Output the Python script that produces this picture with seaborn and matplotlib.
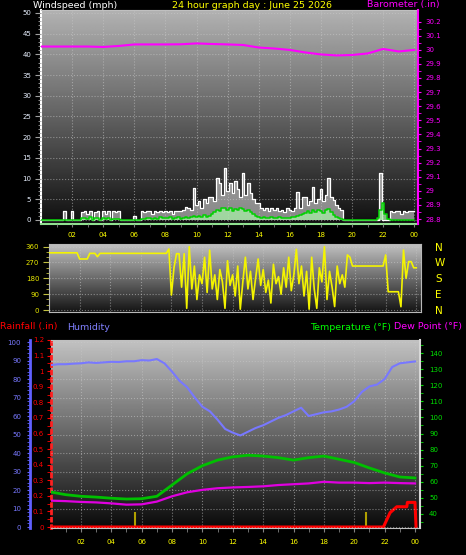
import numpy as np
import matplotlib
matplotlib.use('Agg')
import matplotlib.pyplot as plt
import seaborn as sns

# Figure size in pixels
W, H = 466, 555

# ---- Wind speed (mph), 10 minute samples from 00:00 to 24:00 ----
wind_gust = [
    0, 0, 0, 0, 0, 0,
    0, 0, 0, 2.2, 0, 0,
    2.2, 0, 0, 0, 2.0, 2.2,
    1.5, 2.2, 0, 2.0, 2.2, 0,
    2.2, 1.5, 2.2, 0, 2.2, 2.0,
    2.2, 0, 0, 0, 0, 0,
    1.0, 0, 0, 2.2, 2.0, 2.2,
    2.2, 1.5, 2.2, 2.0, 2.2, 2.0,
    2.2, 2.0, 2.2, 1.5, 2.2, 2.2,
    2.2, 2.5, 3.2, 3.0, 2.5, 7.7,
    3.5, 4.5, 3.0, 5.0, 4.0, 5.5,
    5.6, 4.5, 10.1, 8.9, 6.0, 12.5,
    7.0, 8.9, 6.5, 9.3, 7.5, 5.5,
    11.3, 6.0, 8.9, 6.5, 5.0, 4.0,
    4.1, 3.0, 2.5, 3.0, 2.2, 3.0,
    2.5, 3.0, 2.2, 2.5, 2.0, 3.0,
    2.5, 2.2, 3.0, 6.8, 3.0, 5.6,
    5.6, 3.5, 4.5, 8.0, 4.0, 5.0,
    7.5, 4.5, 6.0, 10.1, 5.5, 4.8,
    3.5, 3.0, 2.4, 0, 0, 0,
    0, 0, 0, 0, 0, 0,
    0, 0, 0, 0, 0, 11.3,
    0, 0, 0, 2.2, 2.0, 2.2,
    2.2, 1.5, 2.2, 2.0, 2.2, 2.2,
    2.2,
]
wind_avg = [
    0, 0, 0, 0, 0, 0,
    0, 0, 0, 0, 0, 0,
    0, 0, 0, 0, 0.4, 0.5,
    0.3, 0.6, 0, 0.4, 0.5, 0,
    0.4, 0.3, 0.5, 0, 0.3, 0.2,
    0.3, 0, 0, 0, 0, 0,
    0, 0, 0, 0.2, 0.3, 0.4,
    0.5, 0.3, 0.4, 0.3, 0.6, 0.5,
    0.4, 0.5, 0.6, 0.3, 0.5, 0.6,
    0.3, 0.5, 0.8, 0.5, 0.6, 1.0,
    0.8, 1.0, 0.6, 1.2, 0.8, 1.0,
    1.5, 2.0, 2.5, 2.2, 2.8, 3.0,
    2.5, 2.8, 2.2, 2.6, 2.4, 2.8,
    2.6, 2.2, 2.5, 2.0, 1.5, 1.0,
    0.8, 0.5, 0.6, 0.5, 0.4, 0.6,
    0.5, 0.4, 0.6, 0.5, 0.4, 0.5,
    0.4, 0.6, 0.8, 1.0, 1.2, 1.5,
    1.8, 2.2, 1.6, 2.4, 2.0, 2.5,
    2.2, 1.8, 2.4, 2.6, 2.0, 1.2,
    0.8, 0.5, 0.3, 0, 0, 0,
    0, 0, 0, 0, 0, 0,
    0, 0, 0, 0, 0.5, 2.5,
    4.1, 1.5, 0.3, 0, 0, 0,
    0, 0, 0, 0, 0, 0,
    0,
]
# ---- Wind direction (degrees), same 10 minute samples ----
wind_dir = [
    325, 325, 325, 325, 325, 325,
    325, 325, 325, 325, 325, 325,
    290, 290, 290, 290, 322, 322,
    322, 303, 322, 322, 322, 322,
    322, 322, 322, 322, 322, 322,
    322, 322, 322, 322, 322, 322,
    322, 322, 322, 322, 322, 322,
    322, 322, 322, 322, 322, 347,
    85, 240, 320, 320, 130, 320,
    10, 360, 120, 250, 60, 200,
    150, 300, 100, 340, 120, 200,
    60, 230, 160, 10, 280, 140,
    200, 80, 250, 5, 160, 300,
    120, 220, 60, 180, 290, 140,
    230, 100, 170, 40, 260, 150,
    190, 90, 240, 130, 300, 110,
    200, 345, 150, 250, 80, 220,
    5, 300, 120, 10, 240, 160,
    360, 60, 220, 130, 20, 250,
    150, 200, 130, 313, 300, 250,
    250, 250, 250, 250, 250, 250,
    250, 250, 250, 250, 250, 250,
    313, 104, 104, 104, 104, 104,
    19, 341, 180, 275, 275, 240,
    240,
]
ten_min_hours = np.arange(len(wind_gust)) / 6

# ---- Barometer (in), hourly ----
baro_hours = list(range(25))
baro = [30.023, 30.023, 30.023, 30.023, 30.02, 30.027, 30.038, 30.038, 30.038,
        30.039, 30.045, 30.041, 30.038, 30.034, 30.016, 30.009, 29.999, 29.981,
        29.967, 29.96, 29.963, 29.974, 30.006, 29.988, 29.999]

# ---- Humidity (%), half hourly ----
hum_hours = [i / 2 for i in range(49)]
humidity = [87.5, 88, 88, 88.3, 88.5, 89, 88.7, 89, 89.3, 89.2, 89.6, 89.6,
            90.2, 90, 90.8, 88.5, 84, 79, 75.5, 70, 65, 62.5, 58, 53,
            51, 49.5, 51.5, 53.5, 55, 57, 59, 60.5, 62.5, 64.5, 60, 61,
            62, 62.5, 63.5, 65, 68, 73, 76, 77, 80, 86.5, 88.5, 89, 89.5]

# ---- Temperature and dew point (F), hourly ----
temp_hours = list(range(25))
temperature = [53.7, 52, 51, 50.5, 49.8, 49.3, 49.5, 51, 58, 65, 70, 73.5, 75.5,
               76.5, 76, 75, 73.5, 75, 76, 74, 72, 68.6, 65.5, 63, 62.4]
dew_point = [48.3, 48, 47.5, 47.2, 46.6, 45.8, 46, 47.7, 51, 53.5, 55, 56, 56.5,
             56.8, 57.2, 58, 58.5, 59, 60, 59.5, 59.5, 59.2, 59.5, 59.2, 59]

# ---- Rainfall (in) ----
rain_hours = [0, 21.92, 22.36, 22.8, 23.46, 23.5, 24.0, 24.07]
rainfall = [0, 0, 0.092, 0.13, 0.13, 0.158, 0.158, 0]
rate_hours = [5.56, 20.78]
rain_rate = [0.095, 0.095]

hour_ticks = list(range(2, 25, 2))
hour_labels = ['02', '04', '06', '08', '10', '12', '14', '16', '18', '20', '22', '00']

YELLOW = '#ffff00'
MAGENTA = '#ff00ff'
GRID = dict(color='#c8c8c8', linestyle=':', linewidth=0.8, alpha=0.55)
TICK = 5

plt.rcParams['font.family'] = 'DejaVu Sans'
fig = plt.figure(figsize=(W / 100, H / 100), dpi=100)
fig.patch.set_facecolor('black')


def px_axes(left, top, right, bottom):
    return fig.add_axes([left / W, 1 - bottom / H, (right - left) / W, (bottom - top) / H])


def shade(ax, top, bottom):
    # grey gradient background, light at the top and dark at the bottom
    g = np.linspace(top, bottom, 256).reshape(-1, 1)
    ax.imshow(g, cmap='gray', vmin=0, vmax=1, aspect='auto', extent=(0, 1, 0, 1),
              transform=ax.transAxes, zorder=0, interpolation='bilinear')


def hide_spines(ax, keep):
    for name, sp in ax.spines.items():
        sp.set_visible(name in keep)


# ================= Wind speed / barometer =================
ax_w = px_axes(41, 10, 418, 224)
shade(ax_w, 0.70, 0.06)
ax_w.fill_between(ten_min_hours, wind_gust, step='mid', color='white', alpha=0.5, lw=0, zorder=2)
sns.lineplot(x=ten_min_hours, y=wind_gust, ax=ax_w, color='white', lw=0.9,
             drawstyle='steps-mid', estimator=None, errorbar=None, zorder=3)
ax_w.fill_between(ten_min_hours, wind_avg, step='mid', color='#a8f0a8', alpha=0.75, lw=0, zorder=4)
sns.lineplot(x=ten_min_hours, y=wind_avg, ax=ax_w, color='#00d000', lw=1.1,
             drawstyle='steps-mid', estimator=None, errorbar=None, zorder=5)
ax_w.set_xlim(0, 24.24)
ax_w.set_ylim(-0.97, 50.7)
ax_w.set_yticks(range(0, 51, 5))
ax_w.set_yticks(range(0, 51), minor=True)
ax_w.set_xticks(hour_ticks)
ax_w.set_xticklabels(hour_labels)
ax_w.set_xticks(range(1, 25), minor=True)
ax_w.grid(True, **GRID)
ax_w.set_axisbelow(False)
ax_w.tick_params(axis='y', which='major', colors='#a0a0a0', labelcolor='#e8f0ff',
                 labelsize=TICK, length=4, pad=3)
ax_w.tick_params(axis='y', which='minor', colors='#a0a0a0', length=2)
ax_w.tick_params(axis='x', which='both', colors='#808080', labelcolor=YELLOW,
                 labelsize=TICK, length=2, pad=4)
ax_w.set_xlabel('')
ax_w.set_ylabel('')
ax_w.spines['left'].set_color('white')
ax_w.spines['left'].set_linewidth(1.5)
ax_w.spines['bottom'].set_color('#90e090')
ax_w.spines['bottom'].set_linewidth(1.5)
ax_w.spines['top'].set_color('#c0c0c0')
ax_w.spines['right'].set_visible(False)

ax_p = ax_w.twinx()
sns.lineplot(x=baro_hours, y=baro, ax=ax_p, color=MAGENTA, lw=1.5,
             estimator=None, errorbar=None)
ax_p.set_ylim(28.765, 30.282)
ax_p.set_yticks(np.round(np.arange(28.8, 30.25, 0.1), 1))
ax_p.set_yticklabels(['%g' % v for v in np.round(np.arange(28.8, 30.25, 0.1), 1)])
ax_p.set_yticks(np.arange(28.8, 30.25, 0.05), minor=True)
ax_p.tick_params(axis='y', which='both', colors=MAGENTA, labelcolor=MAGENTA,
                 labelsize=TICK, length=2.5, pad=3)
ax_p.set_ylabel('')
hide_spines(ax_p, ['right'])
ax_p.spines['right'].set_color(MAGENTA)
ax_p.spines['right'].set_linewidth(1.5)

fig.text(33 / W, 1 - 5 / H, 'Windspeed (mph)', color='white', fontsize=6.8, va='center', ha='left')
fig.text(252 / W, 1 - 5 / H, '24 hour graph day : June 25 2026', color=YELLOW, fontsize=6.8,
         va='center', ha='center')
fig.text(440 / W, 1 - 5 / H, 'Barometer (.in)', color=MAGENTA, fontsize=6.8, va='center', ha='right')

# ================= Wind direction =================
ax_d = px_axes(49, 244, 421, 312)
shade(ax_d, 0.76, 0.08)
sns.lineplot(x=ten_min_hours, y=wind_dir, ax=ax_d, color='#f4f400', lw=1.2,
             estimator=None, errorbar=None, zorder=3)
ax_d.set_xlim(0, 24.31)
ax_d.set_ylim(-11, 375)
ax_d.set_yticks([0, 90, 180, 270, 360])
ax_d.set_yticks(range(0, 361, 30), minor=True)
ax_d.set_xticks(hour_ticks)
ax_d.set_xticks(range(1, 25), minor=True)
ax_d.grid(True, **GRID)
ax_d.tick_params(axis='y', which='major', colors='#c0c040', labelcolor='#e8e800',
                 labelsize=TICK, length=4, pad=3)
ax_d.tick_params(axis='y', which='minor', colors='#c0c040', length=2)
ax_d.tick_params(axis='x', which='both', length=0, labelbottom=False)
ax_d.set_ylabel('')
for name in ['left', 'top', 'bottom', 'right']:
    ax_d.spines[name].set_color('#b8b8b8')

ax_c = ax_d.twinx()
ax_c.set_ylim(-11, 375)
ax_c.set_yticks([0, 90, 180, 270, 360])
ax_c.set_yticklabels(['N', 'E', 'S', 'W', 'N'])
ax_c.tick_params(axis='y', length=0, pad=10, labelcolor=YELLOW, labelsize=7.5)
hide_spines(ax_c, [])

# ================= Rainfall / humidity / temperature =================
ax_r = px_axes(51, 340, 420, 528)
shade(ax_r, 0.76, 0.04)
ax_r.vlines(rate_hours, 0, rain_rate, color='#b0a000', lw=1.5, zorder=3)
sns.lineplot(x=rain_hours, y=rainfall, ax=ax_r, color='#ff0000', lw=2.2,
             estimator=None, errorbar=None, zorder=6)
ax_r.set_xlim(0.03, 24.33)
ax_r.set_ylim(-0.0064, 1.2)
rain_ticks = np.round(np.arange(0, 1.25, 0.1), 1)
ax_r.set_yticks(rain_ticks)
ax_r.set_yticklabels(['%g' % v for v in rain_ticks])
ax_r.set_yticks(np.arange(0, 1.2, 0.05), minor=True)
ax_r.set_xticks(hour_ticks)
ax_r.set_xticklabels(hour_labels)
ax_r.set_xticks(range(1, 25), minor=True)
ax_r.grid(True, axis='x', **GRID)
ax_r.tick_params(axis='y', which='both', colors='#ff0000', labelcolor='#ff0000',
                 labelsize=TICK, length=3, pad=2)
ax_r.tick_params(axis='x', which='both', colors='#808080', labelcolor=YELLOW,
                 labelsize=TICK, length=3, pad=5)
ax_r.set_ylabel('')
ax_r.spines['left'].set_color('#ff2020')
ax_r.spines['left'].set_linestyle(':')
ax_r.spines['left'].set_linewidth(2)
ax_r.spines['bottom'].set_color('#c0c0c0')
ax_r.spines['top'].set_color('#c0c0c0')

ax_h = ax_r.twinx()
sns.lineplot(x=hum_hours, y=humidity, ax=ax_h, color='#7878ff', lw=1.5,
             estimator=None, errorbar=None, zorder=4)
ax_h.set_ylim(-0.54, 101.1)
ax_h.set_yticks(range(0, 101, 10))
ax_h.set_yticks(range(0, 101, 2), minor=True)
ax_h.yaxis.tick_left()
ax_h.grid(True, axis='y', **GRID)
ax_h.tick_params(axis='y', which='both', colors='#6060ff', labelcolor='#7878ff',
                 labelsize=TICK, length=2.5, pad=4)
ax_h.set_ylabel('')
hide_spines(ax_h, ['left'])
ax_h.spines['left'].set_position(('outward', 15))
ax_h.spines['left'].set_color('#6060ff')
ax_h.spines['left'].set_linewidth(2)

ax_t = ax_r.twinx()
sns.lineplot(x=temp_hours, y=temperature, ax=ax_t, color='#00c000', lw=2,
             estimator=None, errorbar=None, zorder=5)
sns.lineplot(x=temp_hours, y=dew_point, ax=ax_t, color='#e000e0', lw=1.6,
             estimator=None, errorbar=None, zorder=5)
ax_t.set_ylim(31.3, 148.1)
ax_t.set_yticks(range(40, 141, 10))
ax_t.set_yticks(range(35, 146, 5), minor=True)
ax_t.tick_params(axis='y', which='both', colors='#00e000', labelcolor='#00e000',
                 labelsize=TICK, length=2.5, pad=4)
ax_t.set_ylabel('')
hide_spines(ax_t, ['right'])
ax_t.spines['right'].set_color('#d8d8d8')
ax_t.spines['right'].set_linewidth(1.5)

fig.text(0, 1 - 327 / H, 'Rainfall (.in)', color='#ff0000', fontsize=6.8, va='center', ha='left')
fig.text(67 / W, 1 - 327 / H, 'Humidity', color='#8080ff', fontsize=6.8, va='center', ha='left')
fig.text(391 / W, 1 - 327 / H, 'Temperature (°F)', color='#00ff00', fontsize=6.8, va='center', ha='right')
fig.text(462 / W, 1 - 327 / H, 'Dew Point (°F)', color=MAGENTA, fontsize=6.8, va='center', ha='right')

fig.savefig('out.png', dpi=100, facecolor='black')
